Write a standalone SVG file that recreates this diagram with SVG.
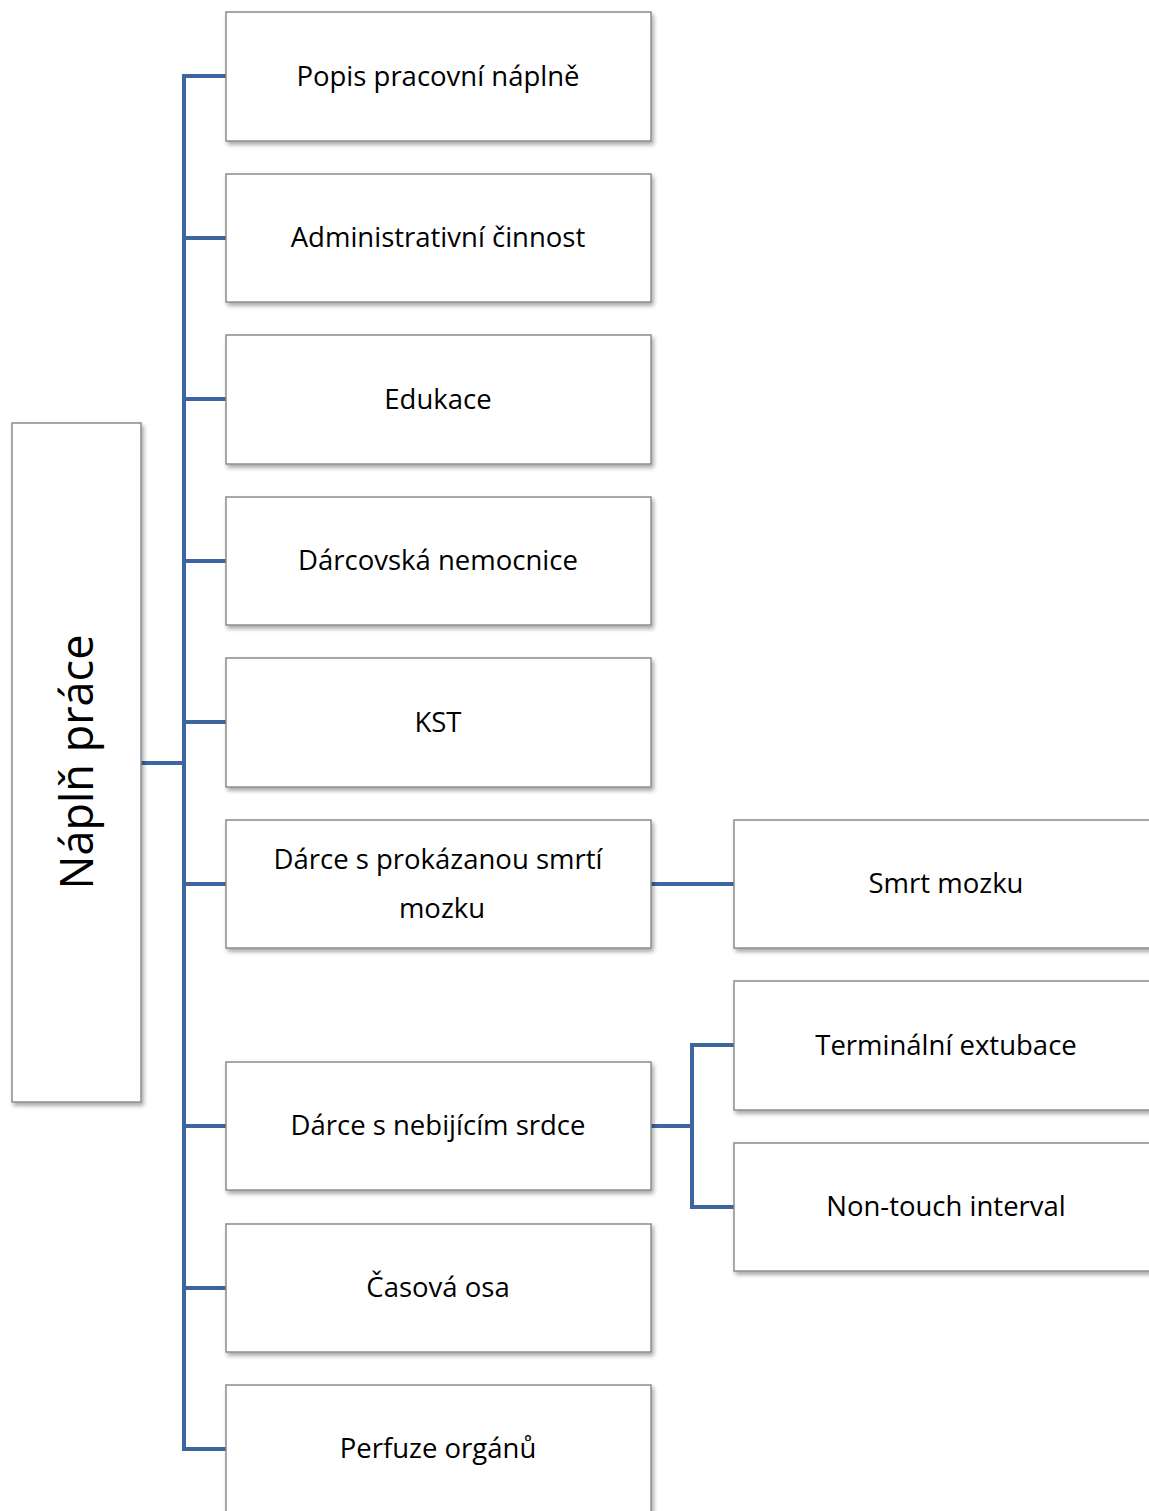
<svg xmlns="http://www.w3.org/2000/svg" width="1149" height="1511" viewBox="0 0 1149 1511">
<style>
.box{fill:#fff;stroke:#8c8c8c;stroke-width:1.5;filter:url(#sh)}
.t{font-family:"Open Sans","Liberation Sans",sans-serif;font-size:27.5px;fill:#000;text-anchor:middle}
.c{fill:none;stroke:#3c66a0;stroke-width:4;stroke-linejoin:miter}
</style>
<defs>
<filter id="sh" x="-10%" y="-10%" width="125%" height="130%">
<feDropShadow dx="2" dy="3" stdDeviation="2" flood-color="#000" flood-opacity="0.35"/>
</filter>
</defs>
<g id="connectors">
<path class="c" d="M141 763H184M226 76H184V1449H226M184 238H226M184 399H226M184 561H226M184 722H226M184 884H226M184 1126H226M184 1288H226"/>
<path class="c" d="M651 884H734"/>
<path class="c" d="M651 1126H692M734 1045H692V1207H734"/>
</g>
<g id="root"><rect class="box" x="12" y="423" width="129" height="679"/><text class="t" style="font-size:45px" transform="translate(93 762) rotate(-90)">Náplň práce</text></g>
<g id="n1"><rect class="box" x="226" y="12" width="425" height="129"/><text class="t" x="438" y="86">Popis pracovní náplně</text></g>
<g id="n2"><rect class="box" x="226" y="174" width="425" height="128"/><text class="t" x="438" y="247">Administrativní činnost</text></g>
<g id="n3"><rect class="box" x="226" y="335" width="425" height="129"/><text class="t" x="438" y="409">Edukace</text></g>
<g id="n4"><rect class="box" x="226" y="497" width="425" height="128"/><text class="t" x="438" y="570">Dárcovská nemocnice</text></g>
<g id="n5"><rect class="box" x="226" y="658" width="425" height="129"/><text class="t" x="438" y="732">KST</text></g>
<g id="n6"><rect class="box" x="226" y="820" width="425" height="128"/><text class="t" x="438" y="869">Dárce s prokázanou smrtí</text><text class="t" x="442" y="918">mozku</text></g>
<g id="n7"><rect class="box" x="226" y="1062" width="425" height="128"/><text class="t" x="438" y="1135">Dárce s nebijícím srdce</text></g>
<g id="n8"><rect class="box" x="226" y="1224" width="425" height="128"/><text class="t" x="438" y="1297">Časová osa</text></g>
<g id="n9"><rect class="box" x="226" y="1385" width="425" height="140"/><text class="t" x="438" y="1458">Perfuze orgánů</text></g>
<g id="n10"><rect class="box" x="734" y="820" width="430" height="128"/><text class="t" x="946" y="893">Smrt mozku</text></g>
<g id="n11"><rect class="box" x="734" y="981" width="430" height="129"/><text class="t" x="946" y="1055">Terminální extubace</text></g>
<g id="n12"><rect class="box" x="734" y="1143" width="430" height="128"/><text class="t" x="946" y="1216">Non-touch interval</text></g>
</svg>
